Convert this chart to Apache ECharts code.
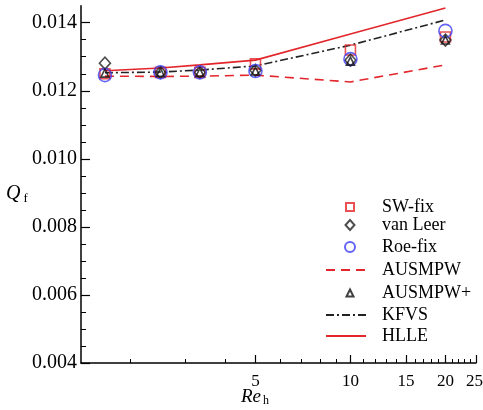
<!DOCTYPE html>
<html>
<head>
<meta charset="utf-8">
<script src="https://cdn.jsdelivr.net/npm/echarts@6/dist/echarts.min.js"></script>
<style>
  html, body { margin: 0; padding: 0; background: #fff; }
  #chart { width: 483px; height: 410px; }
</style>
</head>
<body>
<div id="chart"></div>
<script>
// Reynolds numbers of the cell sizes
const reValues = [1.667, 2.5, 3.333, 5, 10, 20];

// Heat flux coefficient for each flux scheme
const swFix     = [0.01250, 0.01254, 0.01254, 0.01279, 0.01320, 0.01358];
const vanLeer   = [0.01281, 0.01254, 0.01254, 0.01260, 0.01290, 0.01349];
const roeFix    = [0.01246, 0.01254, 0.01254, 0.01258, 0.01293, 0.01376];
const ausmpw    = [0.01243, 0.01242, 0.01243, 0.01246, 0.01226, 0.01276];
const ausmpwP   = [0.01252, 0.01254, 0.01254, 0.01258, 0.01287, 0.01349];
const kfvs      = [0.01253, 0.01255, 0.01261, 0.01273, 0.01334, 0.01408];
const hlle      = [0.01259, 0.01267, 0.01276, 0.01290, 0.01367, 0.01443];

// Axis ticks
const xMajorTicks = [5, 10, 15, 20, 25];
const xMinorTicks = [2, 3, 4, 6, 7, 8, 9, 11, 12, 13, 14, 16, 17, 18, 19, 21, 22, 23, 24];
const yMajorTicks = [0.004, 0.006, 0.008, 0.010, 0.012, 0.014];
const yMinorTicks = [0.0045, 0.005, 0.0055, 0.0065, 0.007, 0.0075, 0.0085, 0.009, 0.0095,
                     0.0105, 0.011, 0.0115, 0.0125, 0.013, 0.0135];

const RED = '#e3262b';
const BLUE = '#3d3df2';
const FONT = '"Liberation Serif", "Times New Roman", serif';

const pairs = arr => reValues.map((x, i) => [x, arr[i]]);

const markerSeries = (name, data, symbol, size, color) => ({
  name, type: 'scatter', data: pairs(data), symbol, symbolSize: size,
  itemStyle: { color: 'rgba(255,255,255,0)', borderColor: color, borderWidth: 1.6 },
  z: 3
});

const lineSeries = (name, data, color, dash, width) => ({
  name, type: 'line', data: pairs(data), showSymbol: false, symbol: 'none',
  lineStyle: { color, width, type: dash },
  itemStyle: { color },
  z: 2
});

// One legend box per entry so each row sits at its own height
const TEXT_X = 381;
const legendText = { fontFamily: FONT, fontSize: 18, color: '#000' };
const markerLegend = (name, rowY, w, h) => ({
  data: [name], orient: 'vertical', padding: 0,
  left: 349 - w / 2, top: rowY - 9,
  itemWidth: w, itemHeight: h,
  textStyle: Object.assign({}, legendText, { padding: [0, 0, 0, TEXT_X - (349 + w / 2 + 5)] })
});
const lineLegend = (name, rowY) => ({
  data: [name], orient: 'vertical', padding: 0,
  left: 325, top: rowY - 9,
  itemWidth: 40, itemHeight: 10,
  itemStyle: { color: 'rgba(0,0,0,0)', borderWidth: 0 },
  textStyle: Object.assign({}, legendText, { padding: [0, 0, 0, TEXT_X - 370] })
});

const chart = echarts.init(document.getElementById('chart'), null, { renderer: 'canvas' });

chart.setOption({
  animation: false,
  backgroundColor: '#fff',
  grid: { left: 81, right: 7, top: 5.7, bottom: 47, containLabel: false, outerBoundsMode: 'none' },
  xAxis: [
    {
      type: 'log', logBase: 10, min: 1.4, max: 25, position: 'bottom',
      axisLine: { show: true, lineStyle: { color: '#000', width: 1.5 } },
      axisTick: { show: true, inside: true, length: 8, customValues: xMajorTicks,
                  lineStyle: { color: '#000', width: 1.2 } },
      axisLabel: { customValues: xMajorTicks, margin: 10, color: '#000',
                   fontFamily: FONT, fontSize: 17,
                   // keep the last label inside the canvas edge
                   formatter: v => (v === 25 ? '{e|25}' : String(v)),
                   rich: { e: { fontFamily: FONT, fontSize: 17, color: '#000', padding: [0, 3, 0, 0] } } },
      splitLine: { show: false }, minorTick: { show: false }
    },
    {
      type: 'log', logBase: 10, min: 1.4, max: 25, position: 'bottom',
      axisLine: { show: false },
      axisTick: { show: true, inside: true, length: 4, customValues: xMinorTicks,
                  lineStyle: { color: '#000', width: 1 } },
      axisLabel: { show: false },
      splitLine: { show: false }
    }
  ],
  yAxis: [
    {
      type: 'value', min: 0.004, max: 0.0145, interval: 0.002, position: 'left',
      axisLine: { show: true, lineStyle: { color: '#000', width: 1.5 } },
      axisTick: { show: true, inside: true, length: 9, customValues: yMajorTicks,
                  lineStyle: { color: '#000', width: 1.2 } },
      axisLabel: { customValues: yMajorTicks, margin: 4, color: '#000',
                   fontFamily: FONT, fontSize: 20,
                   formatter: v => v.toFixed(3) },
      splitLine: { show: false }
    },
    {
      type: 'value', min: 0.004, max: 0.0145, position: 'left',
      axisLine: { show: false },
      axisTick: { show: true, inside: true, length: 5, customValues: yMinorTicks,
                  lineStyle: { color: '#000', width: 1 } },
      axisLabel: { show: false },
      splitLine: { show: false }
    }
  ],
  legend: [
    markerLegend('SW-fix', 207, 8, 8),
    markerLegend('van Leer', 225, 9, 10),
    markerLegend('Roe-fix', 247, 10, 10),
    lineLegend('AUSMPW', 270),
    markerLegend('AUSMPW+', 293, 7, 7),
    lineLegend('KFVS', 315),
    lineLegend('HLLE', 336)
  ],
  graphic: [
    {
      type: 'text', left: 6, top: 184,
      style: {
        text: '{q|Q}{s|f}',
        rich: {
          q: { fontFamily: FONT, fontStyle: 'italic', fontSize: 20, fill: '#000' },
          s: { fontFamily: FONT, fontSize: 13, fill: '#000', padding: [10, 0, 0, 3] }
        }
      }
    },
    {
      type: 'text', left: 241, top: 387,
      style: {
        text: '{r|Re}{s|h}',
        rich: {
          r: { fontFamily: FONT, fontStyle: 'italic', fontSize: 19, fill: '#000' },
          s: { fontFamily: FONT, fontSize: 12, fill: '#000', padding: [9, 0, 0, 2] }
        }
      }
    }
  ],
  series: [
    markerSeries('SW-fix', swFix, 'rect', 10, RED),
    markerSeries('van Leer', vanLeer, 'diamond', [11, 12], '#222'),
    markerSeries('Roe-fix', roeFix, 'circle', 13, BLUE),
    lineSeries('AUSMPW', ausmpw, RED, [9, 6], 1.6),
    markerSeries('AUSMPW+', ausmpwP, 'triangle', 8, '#111'),
    lineSeries('KFVS', kfvs, '#222', [8, 3, 2, 3], 1.6),
    lineSeries('HLLE', hlle, RED, 'solid', 1.6)
  ]
});
</script>
</body>
</html>
